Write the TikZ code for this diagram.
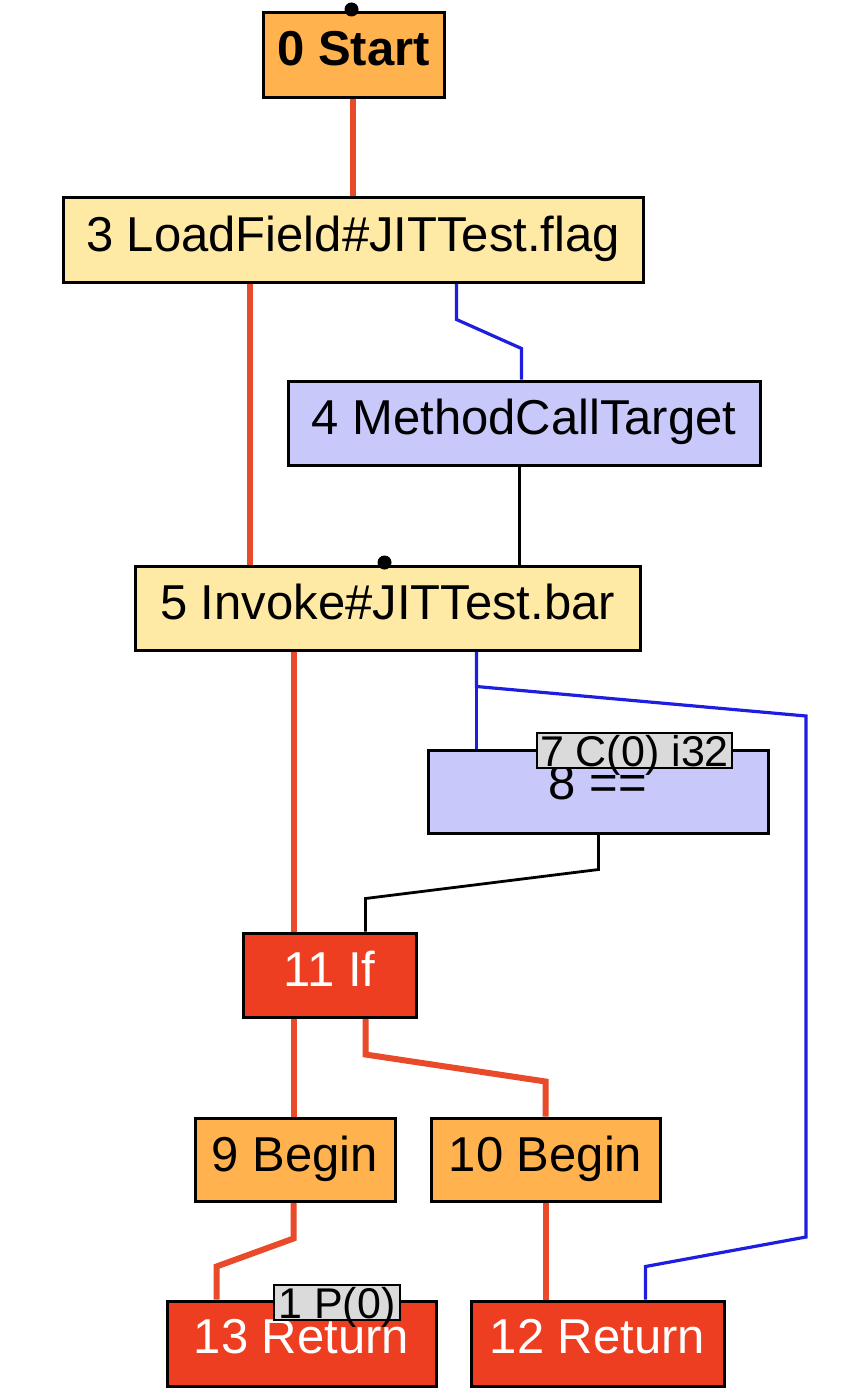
\documentclass[tikz,border=0pt]{standalone}
\usepackage{fontspec}
\setmainfont{Liberation Sans}
\usetikzlibrary{calc,backgrounds}
\definecolor{nodeorange}{RGB}{255,178,78}
\definecolor{nodeyellow}{RGB}{255,234,165}
\definecolor{nodelav}{RGB}{200,200,250}
\definecolor{nodered}{RGB}{237,62,34}
\definecolor{nodegray}{RGB}{218,218,218}
\definecolor{edgered}{RGB}{232,74,42}
\definecolor{edgeblue}{RGB}{30,30,225}
\tikzset{
  box/.style={draw=black, line width=3pt, inner sep=0pt, text height=36pt, text depth=13pt, font=\fontsize{49}{58}\selectfont},
  tag/.style={draw=black, line width=2.4pt, fill=nodegray, inner sep=0pt, text height=31pt, text depth=0pt, font=\fontsize{43}{50}\selectfont},
  redge/.style={draw=edgered, line width=6pt},
  bedge/.style={draw=edgeblue, line width=3.2pt},
  kedge/.style={draw=black, line width=2.8pt},
}
\begin{document}
\begin{tikzpicture}[x=1pt,y=-1pt]
\useasboundingbox (0,0) rectangle (862,1394);
% nodes
\node[box, fill=nodeorange, minimum width=181pt, minimum height=85pt, text depth=15pt] (start) at (353.5,55.5) {\bfseries 0 Start};
\node[box, fill=nodeyellow, minimum width=580pt, minimum height=85pt] (load) at (353,239.5) {3 LoadField\#JITTest.flag};
\node[box, fill=nodelav, minimum width=472pt, minimum height=84pt] (mct) at (524,423) {4 MethodCallTarget};
\node[box, fill=nodeyellow, minimum width=505pt, minimum height=84pt] (inv) at (387.5,608) {5 Invoke\#JITTest.bar};
\node[box, fill=nodelav, minimum width=340pt, minimum height=83pt, text depth=20pt] (eq) at (598,791.5) {8 ==};
\node[tag, minimum width=195pt, minimum height=35pt] (c7) at (634.5,750.5) {7 C(0) i32};
\node[box, fill=nodered, text=white, minimum width=173pt, minimum height=84pt] (if) at (329.5,975) {11 If};
\node[box, fill=nodeorange, minimum width=200pt, minimum height=83pt] (b9) at (295,1159.5) {9 Begin};
\node[box, fill=nodeorange, minimum width=229pt, minimum height=83pt] (b10) at (545.5,1159.5) {10 Begin};
\node[box, fill=nodered, text=white, minimum width=269pt, minimum height=85pt, text depth=16pt] (r13) at (301.5,1343.5) {13 Return};
\node[tag, minimum width=126pt, minimum height=35pt] (p1) at (337,1302.5) {1 P(0)};
\node[box, fill=nodered, text=white, minimum width=253pt, minimum height=85pt, text depth=16pt] (r12) at (597.5,1343.5) {12 Return};
% dots
\fill ($(start.north west)+(90,-2)$) circle (7pt);
\fill ($(inv.north west)+(251,-2)$) circle (7pt);
% edges
\begin{scope}[on background layer]
\draw[redge] ($(start.south west)+(91,0)$) -- ($(load.north west)+(291,0)$);
\draw[redge] ($(load.south west)+(188,0)$) -- ($(inv.north west)+(116,0)$);
\draw[bedge] ($(load.south west)+(395,0)$) -- ++(0,36) -- ($(mct.north west)+(235,-31)$) -- ($(mct.north west)+(235,0)$);
\draw[kedge] ($(mct.south west)+(233,0)$) -- ($(inv.north west)+(386,0)$);
\draw[redge] ($(inv.south west)+(160,0)$) -- ($(if.north west)+(52,0)$);
\draw[bedge] ($(inv.south west)+(343,0)$) -- ($(eq.north west)+(50,0)$);
\draw[bedge] ($(inv.south west)+(343,0)$) -- ++(0,35) -- (806,716) -- (806,1237) -- ($(r12.north west)+(176,-33)$) -- ($(r12.north west)+(176,0)$);
\draw[kedge] ($(eq.south west)+(172,0)$) -- ++(0,35) -- ($(if.north west)+(124,-33)$) -- ($(if.north west)+(124,0)$);
\draw[redge] ($(if.south west)+(52,0)$) -- ($(b9.north west)+(100,0)$);
\draw[redge] ($(if.south west)+(124,0)$) -- ++(0,36) -- ($(b10.north west)+(116,-35)$) -- ($(b10.north west)+(116,0)$);
\draw[redge] ($(b9.south west)+(100,0)$) -- ++(0,36) -- ($(r13.north west)+(51,-33)$) -- ($(r13.north west)+(51,0)$);
\draw[redge] ($(b10.south west)+(116,0)$) -- ($(r12.north west)+(76,0)$);
\end{scope}
\end{tikzpicture}
\end{document}
